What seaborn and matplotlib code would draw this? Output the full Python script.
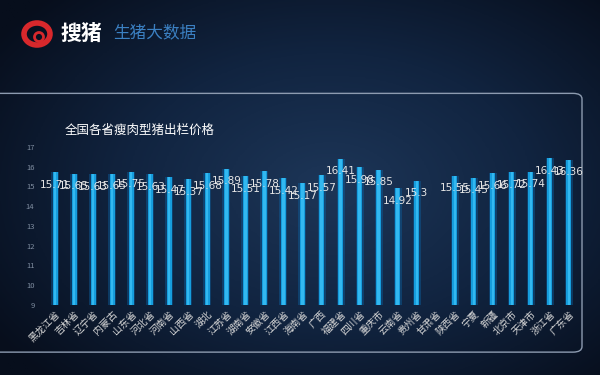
import numpy as np
import seaborn as sns
import matplotlib.pyplot as plt
from matplotlib.colors import LinearSegmentedColormap
from matplotlib.patches import FancyBboxPatch, Ellipse

provinces = ['黑龙江省', '吉林省', '辽宁省', '内蒙古', '山东省', '河北省', '河南省',
             '山西省', '湖北', '江苏省', '湖南省', '安徽省', '江西省', '海南省',
             '广西', '福建省', '四川省', '重庆市', '云南省', '贵州省', '甘肃省',
             '陕西省', '宁夏', '新疆', '北京市', '天津市', '浙江省', '广东省']
prices = [15.71, 15.65, 15.63, 15.65, 15.75, 15.63, 15.47,
          15.37, 15.68, 15.89, 15.51, 15.78, 15.42, 15.17,
          15.57, 16.41, 15.98, 15.85, 14.92, 15.3, 0,
          15.55, 15.45, 15.66, 15.72, 15.74, 16.43, 16.36]
yticks = list(range(9, 18))

sns.set_theme(style='dark')
plt.rcParams['font.family'] = ['Noto Sans CJK SC', 'DejaVu Sans']

fig = plt.figure(figsize=(6, 3.75), dpi=100)

# background gradient + rounded panel
bg = fig.add_axes([0, 0, 1, 1])
bg.axis('off')
yy, xx = np.mgrid[0:1:200j, 0:1:320j]
r = np.sqrt(((xx - 0.55) / 0.75) ** 2 + ((yy - 0.5) / 0.8) ** 2)
cmap = LinearSegmentedColormap.from_list('bg', ['#1d3658', '#112440', '#070e1c'])
bg.imshow(r, cmap=cmap, extent=[0, 1, 0, 1], aspect='auto', vmin=0, vmax=0.9)
bg.set_xlim(0, 1)
bg.set_ylim(0, 1)
bg.add_patch(FancyBboxPatch((-0.05, 0.061), 1.02, 0.69,
                            boxstyle='round,pad=0,rounding_size=0.015',
                            fc='none', ec='#8d9bb0', lw=1.0))

# logo
bg.add_patch(Ellipse((37 / 600, 1 - 34 / 375), 26 / 600, 22 / 375,
                     fc='none', ec='#d8282c', lw=4))
bg.add_patch(Ellipse((39 / 600, 1 - 37 / 375), 9 / 600, 9 / 375,
                     fc='none', ec='#d8282c', lw=2))
fig.text(60 / 600, 1 - 33 / 375, '搜猪', color='white', fontsize=15,
         fontweight='bold', va='center')
fig.text(113 / 600, 1 - 33 / 375, '生猪大数据', color='#3b80c2', fontsize=12,
         va='center')

fig.text(65 / 600, 1 - 130 / 375, '全国各省瘦肉型猪出栏价格', color='white',
         fontsize=9, va='center')

# bars (glow + core)
ax = fig.add_axes([0.076, 0.187, 0.888, 0.421])
ax.set_facecolor('none')
sns.barplot(x=provinces, y=prices, ax=ax, color='#0c5f9e', width=0.42,
            alpha=0.45, saturation=1, linewidth=0)
sns.barplot(x=provinces, y=prices, ax=ax, color='#169ddd', width=0.26,
            saturation=1, linewidth=0)
sns.barplot(x=provinces, y=prices, ax=ax, color='#33b8f0', width=0.12,
            saturation=1, linewidth=0)

ax.set_ylim(9, 17)
ax.set_yticks(yticks)
ax.set_xlim(-0.5, len(provinces) - 0.5)
ax.grid(False)
for s in ax.spines.values():
    s.set_visible(False)
ax.tick_params(axis='y', colors='#7f8da0', labelsize=5.5, pad=8, length=0)
ax.tick_params(axis='x', colors='#d8d8d8', labelsize=7, pad=3, length=0)
plt.setp(ax.get_xticklabels(), rotation=45, ha='right', rotation_mode='anchor')
ax.set_xlabel('')
ax.set_ylabel('')

for i, v in enumerate(prices):
    if v > 9:
        ax.annotate(f'{v:g}', (i, v), xytext=(0, -9), textcoords='offset points',
                    ha='center', va='center', color='#e6e6e6', fontsize=7.5,
                    family='DejaVu Sans')

fig.savefig('out.png', dpi=100)
